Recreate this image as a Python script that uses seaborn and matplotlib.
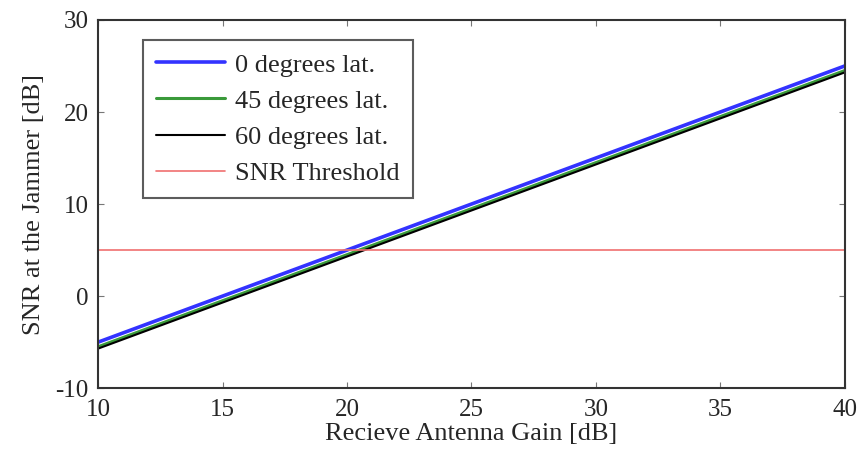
import matplotlib
matplotlib.use("Agg")
import matplotlib.pyplot as plt
import seaborn as sns
import pandas as pd

gain_db = [10, 40]
snr_0deg = [-5.0, 25.0]
snr_45deg = [-5.5, 24.5]
snr_60deg = [-5.7, 24.3]
snr_threshold = [5.0, 5.0]

sns.set_style("white")
plt.rcParams['font.family'] = ['Liberation Serif', 'DejaVu Serif']
plt.rcParams['axes.unicode_minus'] = False

fig = plt.figure(figsize=(8.61, 4.54), dpi=100)
ax = fig.add_axes([0.114, 0.145, 0.867, 0.811])

series = [
    ("0 degrees lat.", snr_0deg, "#3333ff", 2.6),
    ("45 degrees lat.", snr_45deg, "#3a9a3a", 2.2),
    ("60 degrees lat.", snr_60deg, "black", 1.5),
    ("SNR Threshold", snr_threshold, "#f07070", 1.2),
]
for label, ys, color, lw in series:
    df = pd.DataFrame({"x": gain_db, "y": ys})
    sns.lineplot(data=df, x="x", y="y", ax=ax, color=color, linewidth=lw, label=label)

ax.set_xlim(10, 40)
ax.set_ylim(-10, 30)
ax.set_xticks([10, 15, 20, 25, 30, 35, 40])
ax.set_yticks([-10, 0, 10, 20, 30])
ax.set_xlabel("Recieve Antenna Gain [dB]", fontsize=19, labelpad=1)
ax.set_ylabel("SNR at the Jammer [dB]", fontsize=19, labelpad=7)
ax.tick_params(axis="both", direction="in", length=4, labelsize=18, color="#777777",
               top=True, right=True, bottom=True, left=True)
ax.tick_params(axis="x", pad=8)
ax.tick_params(axis="y", pad=7)
for s in ax.spines.values():
    s.set_color("#333333")
    s.set_linewidth(1.5)

leg = ax.legend(loc="upper left", bbox_to_anchor=(0.06, 0.946), fontsize=19,
                frameon=True, fancybox=False, handlelength=2.6, handletextpad=0.4,
                borderpad=0.5, labelspacing=0.48, borderaxespad=0)
leg.get_frame().set_edgecolor("#333333")
leg.get_frame().set_linewidth(1.5)

fig.savefig("out.png", dpi=100)
